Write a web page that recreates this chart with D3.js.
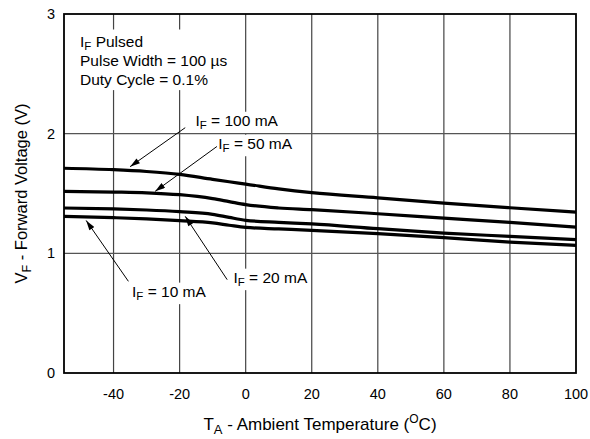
<!DOCTYPE html>
<html>
<head>
<meta charset="utf-8">
<script src="https://cdn.jsdelivr.net/npm/d3@7"></script>
<style>
  body { margin: 0; background: #fff; }
  text { font-family: "Liberation Sans", Arial, sans-serif; fill: #000; }
</style>
</head>
<body>
<div id="chart"></div>
<script>

var temps = [-55, -40, -30, -20, -10, -5, 0, 10, 20, 40, 60, 80, 100];
var vf100 = [1.711, 1.699, 1.684, 1.660, 1.618, 1.598, 1.579, 1.539, 1.507, 1.464, 1.420, 1.381, 1.344];
var vf50  = [1.517, 1.512, 1.506, 1.490, 1.457, 1.432, 1.407, 1.379, 1.365, 1.331, 1.294, 1.258, 1.219];
var vf20  = [1.379, 1.371, 1.362, 1.348, 1.326, 1.300, 1.276, 1.259, 1.246, 1.206, 1.169, 1.142, 1.114];
var vf10  = [1.309, 1.298, 1.288, 1.273, 1.254, 1.235, 1.217, 1.204, 1.192, 1.164, 1.131, 1.094, 1.067];
var xTicks = [-40, -20, 0, 20, 40, 60, 80, 100];
var yTicks = [0, 1, 2, 3];
var series = [vf100, vf50, vf20, vf10];

var margin = {top: 14, right: 14, bottom: 66, left: 64},
    width = 590 - margin.left - margin.right,
    height = 439 - margin.top - margin.bottom;

var svg = d3.select("#chart")
  .append("svg")
    .attr("width", 590)
    .attr("height", 439);

svg.append("defs").append("marker")
    .attr("id", "head")
    .attr("viewBox", "0 0 10 6")
    .attr("refX", 10)
    .attr("refY", 3)
    .attr("markerWidth", 11)
    .attr("markerHeight", 6)
    .attr("markerUnits", "userSpaceOnUse")
    .attr("orient", "auto")
  .append("path")
    .attr("d", "M0,0L10,3L0,6Z")
    .attr("fill", "#000");

var g = svg.append("g")
    .attr("transform", "translate(" + margin.left + "," + margin.top + ")");

var x = d3.scaleLinear()
    .domain([-55, 100])
    .range([0, width]);

var y = d3.scaleLinear()
    .domain([0, 3])
    .range([height, 0]);

// vertical grid
g.append("g")
  .selectAll("line")
  .data(xTicks.slice(0, -1))
  .enter()
  .append("line")
    .attr("x1", function(d){ return x(d); })
    .attr("x2", function(d){ return x(d); })
    .attr("y1", 0)
    .attr("y2", height)
    .attr("stroke", "#444")
    .attr("stroke-width", 1.2);

var notes = g.append("g");

var info = notes.append("g");
var infoLines = [["I", "F", " Pulsed"], ["Pulse Width = 100 µs"], ["Duty Cycle = 0.1%"]];

function subText(sel, parts) {
  sel.append("tspan").text(parts[0]);
  if (parts.length > 1) {
    sel.append("tspan").text(parts[1]).attr("font-size", "11.5px").attr("dy", 3.5);
    sel.append("tspan").text(parts[2]).attr("dy", -3.5);
  }
}

infoLines.forEach(function(p, i){
  var t = info.append("text")
      .attr("x", 16)
      .attr("y", 32.5 + i * 19.3)
      .attr("font-size", "15.5px");
  subText(t, p);
});

var labels = [
  {lab: ["I", "F", " = 100 mA"], x: -15.2, y: 2.066, from: [-18.3, 2.05], to: [-35, 1.724]},
  {lab: ["I", "F", " = 50 mA"], x: -8.3, y: 1.874, from: [-8.7, 1.893], to: [-27.4, 1.518]},
  {lab: ["I", "F", " = 20 mA"], x: -3.7, y: 0.755, from: [-5.6, 0.78], to: [-18.3, 1.309]},
  {lab: ["I", "F", " = 10 mA"], x: -34.4, y: 0.638, from: [-35.5, 0.766], to: [-48.3, 1.275]}
];

var bgLayer = notes.append("g");
var textLayer = notes.append("g");

labels.forEach(function(d){
  var t = textLayer.append("text")
      .attr("x", x(d.x))
      .attr("y", y(d.y))
      .attr("font-size", "15.5px");
  subText(t, d.lab);
  d.node = t.node();
});

// white boxes behind the notes
var ib = info.node().getBBox();
bgLayer.append("rect")
    .attr("x", ib.x - 6).attr("y", ib.y - 3)
    .attr("width", ib.width + 12).attr("height", ib.height + 5)
    .attr("fill", "#fff");

labels.forEach(function(d){
  var b = d.node.getBBox();
  bgLayer.append("rect")
      .attr("x", b.x - 3).attr("y", b.y)
      .attr("width", b.width + 6).attr("height", b.height + 2)
      .attr("fill", "#fff");
});
info.raise();

// horizontal grid
g.append("g")
  .selectAll("line")
  .data([1, 2])
  .enter()
  .append("line")
    .attr("x1", 0)
    .attr("x2", width)
    .attr("y1", function(d){ return y(d); })
    .attr("y2", function(d){ return y(d); })
    .attr("stroke", "#555")
    .attr("stroke-width", 1.2);

textLayer.raise();

// curves
var line = d3.line()
    .x(function(d, i){ return x(temps[i]); })
    .y(function(d){ return y(d); })
    .curve(d3.curveMonotoneX);

g.append("g")
  .selectAll("path")
  .data(series)
  .enter()
  .append("path")
    .attr("d", line)
    .attr("fill", "none")
    .attr("stroke", "#000")
    .attr("stroke-width", 3.2);

// arrows
g.append("g")
  .selectAll("line")
  .data(labels)
  .enter()
  .append("line")
    .attr("x1", function(d){ return x(d.from[0]); })
    .attr("y1", function(d){ return y(d.from[1]); })
    .attr("x2", function(d){ return x(d.to[0]); })
    .attr("y2", function(d){ return y(d.to[1]); })
    .attr("stroke", "#000")
    .attr("stroke-width", 1)
    .attr("marker-end", "url(#head)");

// frame
g.append("rect")
    .attr("width", width)
    .attr("height", height)
    .attr("fill", "none")
    .attr("stroke", "#000")
    .attr("stroke-width", 1.8);

// tick labels
g.append("g")
  .selectAll("text")
  .data(xTicks)
  .enter()
  .append("text")
    .attr("x", function(d){ return x(d); })
    .attr("y", height + 26)
    .attr("text-anchor", "middle")
    .attr("font-size", "14.5px")
    .text(function(d){ return d; });

g.append("g")
  .selectAll("text")
  .data(yTicks)
  .enter()
  .append("text")
    .attr("x", -9)
    .attr("y", function(d){ return y(d) + 5; })
    .attr("text-anchor", "end")
    .attr("font-size", "14.5px")
    .text(function(d){ return d; });

// axis titles
var xt = svg.append("text")
    .attr("x", margin.left + width / 2)
    .attr("y", 430)
    .attr("text-anchor", "middle")
    .attr("font-size", "17px");
xt.append("tspan").text("T");
xt.append("tspan").text("A").attr("font-size", "13px").attr("dy", 4);
xt.append("tspan").text(" - Ambient Temperature (").attr("dy", -4);
xt.append("tspan").text("O").attr("font-size", "12px").attr("dy", -7);
xt.append("tspan").text("C)").attr("dy", 7);

var yt = svg.append("g")
    .attr("transform", "translate(27," + (margin.top + height / 2) + ")")
  .append("text")
    .attr("text-anchor", "middle")
    .attr("transform", "rotate(-90)")
    .attr("font-size", "16.5px");
yt.append("tspan").text("V");
yt.append("tspan").text("F").attr("font-size", "12.5px").attr("dy", 4);
yt.append("tspan").text(" - Forward Voltage (V)").attr("dy", -4);

</script>
</body>
</html>
